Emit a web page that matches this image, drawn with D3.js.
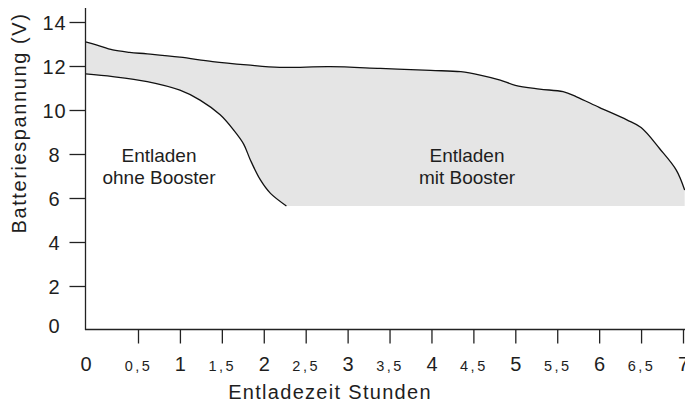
<!DOCTYPE html>
<html>
<head>
<meta charset="utf-8">
<script src="https://cdn.jsdelivr.net/npm/d3@7"></script>
<style>
  body { margin: 0; background: #fff; }
  text { font-family: "Liberation Sans", Arial, sans-serif; fill: #1e1e1e; }
</style>
</head>
<body>
<div id="container"></div>
<script>
// VARIABLES

const width = 685;
const height = 402;

// DATA

// discharge with booster (hours, volts)
const hoursBooster = [0, 0.11, 0.26, 0.42, 0.61, 1.0, 1.39, 1.8, 2.19, 2.79, 3.39, 3.99, 4.35, 4.58, 4.82, 5.0, 5.29, 5.57, 5.73, 6.0, 6.33, 6.5, 6.72, 6.92, 7.02];
const voltsBooster = [13.1, 12.95, 12.73, 12.62, 12.55, 12.4, 12.2, 12.05, 11.94, 11.97, 11.89, 11.8, 11.74, 11.59, 11.36, 11.12, 10.95, 10.83, 10.6, 10.12, 9.55, 9.2, 8.25, 7.27, 6.36];

// discharge without booster
const hoursNoBooster = [0, 0.26, 0.61, 1.0, 1.24, 1.48, 1.64, 1.76, 1.84, 1.96, 2.08, 2.27];
const voltsNoBooster = [11.64, 11.52, 11.29, 10.9, 10.45, 9.78, 9.09, 8.45, 7.73, 6.82, 6.21, 5.64];

// cut-off voltage (bottom of the grey area)
const cutoffVolts = 5.64;

const yTicks = [0, 2, 4, 6, 8, 10, 12, 14];
const xTicks = [0, 0.5, 1, 1.5, 2, 2.5, 3, 3.5, 4, 4.5, 5, 5.5, 6, 6.5, 7];
const xTickLabels = ["0", "0,5", "1", "1,5", "2", "2,5", "3", "3,5", "4", "4,5", "5", "5,5", "6", "6,5", "7"];

const booster = hoursBooster.map((h, i) => ({h: h, v: voltsBooster[i]}));
const noBooster = hoursNoBooster.map((h, i) => ({h: h, v: voltsNoBooster[i]}));

// SCALES

const xScale = d3.scaleLinear()
  .domain([0, 0.5, 7])
  .range([85.5, 138, 683]);

const yScale = d3.scaleLinear()
  .domain([0, 14])
  .range([330, 22]);

// ELEMENTS

const svg = d3.select("#container")
  .append("svg")
  .attr("width", width)
  .attr("height", height);

const line = d3.line()
  .x(d => xScale(d.h))
  .y(d => yScale(d.v))
  .curve(d3.curveCatmullRom.alpha(0.5));

// grey area between the two curves
const lastB = booster[booster.length - 1];
const lastN = noBooster[noBooster.length - 1];
const areaPath = line(booster)
  + "L" + xScale(lastB.h) + "," + yScale(cutoffVolts)
  + "L" + xScale(lastN.h) + "," + yScale(cutoffVolts)
  + line(noBooster.slice().reverse()).replace(/^M/, "L")
  + "Z";

svg.append("path")
  .attr("d", areaPath)
  .attr("fill", "#e5e5e5")
  .attr("stroke", "none");

svg.selectAll("path.curve")
  .data([booster, noBooster])
  .join("path")
  .attr("class", "curve")
  .attr("d", line)
  .attr("fill", "none")
  .attr("stroke", "#111")
  .attr("stroke-width", 1.3);

// AXES

const yAxis = svg.append("g")
  .attr("transform", "translate(85.5,0)")
  .call(d3.axisLeft(yScale).tickValues(yTicks).tickSize(16).tickFormat(d => d));

yAxis.select(".domain").remove();
yAxis.selectAll(".tick line").attr("stroke", "#222").attr("stroke-width", 1.3)
  .filter(d => d === 0).remove();
yAxis.selectAll(".tick text")
  .attr("x", -31)
  .attr("dy", d => d === 0 ? "0.1em" : "0.36em")
  .attr("text-anchor", "middle")
  .style("font-size", "20px")
  .style("letter-spacing", "1px")
  .style("font-family", "'Liberation Sans', Arial, sans-serif")
  .attr("fill", "#1e1e1e");

const xAxis = svg.append("g")
  .attr("transform", "translate(0,329.5)")
  .call(d3.axisBottom(xScale).tickValues(xTicks).tickSize(14)
    .tickFormat((d, i) => xTickLabels[i]));

xAxis.select(".domain").remove();
xAxis.selectAll(".tick line").attr("stroke", "#222").attr("stroke-width", 1.3)
  .filter(d => d === 0).remove();
xAxis.selectAll(".tick text")
  .attr("y", 41.5)
  .attr("dy", 0)
  .style("font-size", d => Number.isInteger(d) ? "20px" : "14.5px")
  .style("letter-spacing", d => Number.isInteger(d) ? "0px" : "2.5px")
  .style("font-family", "'Liberation Sans', Arial, sans-serif")
  .attr("fill", "#1e1e1e");

// axis lines
svg.append("line")
  .attr("x1", 85.5).attr("x2", 85.5)
  .attr("y1", 8).attr("y2", 330)
  .attr("stroke", "#222").attr("stroke-width", 1.3);

svg.append("line")
  .attr("x1", 85).attr("x2", 685)
  .attr("y1", 329.5).attr("y2", 329.5)
  .attr("stroke", "#222").attr("stroke-width", 1.3);

// TITLES

svg.append("text")
  .attr("x", 330)
  .attr("y", 399)
  .attr("text-anchor", "middle")
  .style("font-size", "20px")
  .style("letter-spacing", "1.3px")
  .text("Entladezeit Stunden");

svg.append("text")
  .attr("transform", "translate(26,123) rotate(-90)")
  .attr("text-anchor", "middle")
  .style("font-size", "20px")
  .style("letter-spacing", "1.6px")
  .text("Batteriespannung (V)");

// LABELS

const notes = [
  {x: 159, lines: ["Entladen", "ohne Booster"]},
  {x: 467, lines: ["Entladen", "mit Booster"]}
];

notes.forEach(n => {
  svg.append("text")
    .attr("text-anchor", "middle")
    .style("font-size", "19px")
    .selectAll("tspan")
    .data(n.lines)
    .join("tspan")
    .attr("x", n.x)
    .attr("y", (d, i) => 161.5 + i * 22.5)
    .text(d => d);
});
</script>
</body>
</html>
